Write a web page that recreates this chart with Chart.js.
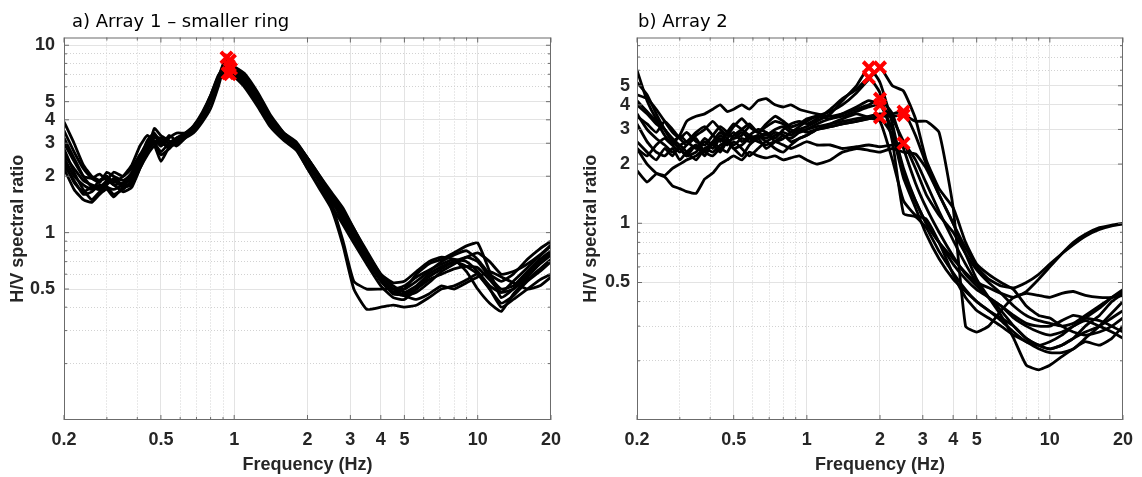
<!DOCTYPE html>
<html>
<head>
<meta charset="utf-8">
<script src="https://cdn.jsdelivr.net/npm/chart.js@4.4.0/dist/chart.umd.min.js"></script>
<style>
  html, body { margin: 0; padding: 0; background: #fff; }
  #wrap { position: relative; width: 1142px; height: 477px; }
  canvas { position: absolute; top: 0; }
  #chartA { left: 0; }
  #chartB { left: 570px; }
</style>
</head>
<body>
<div id="wrap">
  <canvas id="chartA" width="570" height="477"></canvas>
  <canvas id="chartB" width="572" height="477"></canvas>
</div>
<script>
// frequency samples shared by all curves (Hz)
const freq = [0.2, 0.22, 0.24, 0.26, 0.28, 0.3, 0.32, 0.35,
  0.38, 0.41, 0.44, 0.47, 0.5, 0.54, 0.58, 0.63,
  0.68, 0.74, 0.8, 0.86, 0.93, 1.0, 1.1, 1.25,
  1.4, 1.6, 1.8, 2.0, 2.25, 2.5, 2.8, 3.1,
  3.5, 4.0, 4.5, 5.0, 5.6, 6.3, 7.1, 8.0,
  9.0, 10, 11.2, 12.5, 14, 16, 18, 20];

// a) Array 1 - H/V curves
const hvA1 = [3.9, 3.0, 2.3, 2.0, 1.9, 1.95, 1.8, 1.85,
  2.1, 2.6, 3.0, 3.3, 3.1, 2.9, 3.0, 3.3,
  3.6, 4.2, 5.2, 6.6, 8.6, 7.6, 6.9, 5.4,
  4.1, 3.3, 2.95, 2.45, 1.95, 1.6, 1.3, 1.05,
  0.78, 0.58, 0.5, 0.52, 0.58, 0.63, 0.68, 0.72,
  0.7, 0.62, 0.52, 0.48, 0.55, 0.65, 0.75, 0.85];
const hvA2 = [3.2, 2.5, 2.0, 1.75, 1.7, 1.85, 1.9, 1.75,
  1.8, 2.2, 2.7, 3.6, 3.3, 3.1, 2.9, 3.2,
  3.5, 4.0, 5.0, 6.3, 8.3, 7.3, 6.6, 5.2,
  4.0, 3.2, 2.8, 2.3, 1.85, 1.5, 1.2, 0.95,
  0.72, 0.55, 0.48, 0.5, 0.6, 0.68, 0.72, 0.78,
  0.85, 0.88, 0.62, 0.45, 0.5, 0.6, 0.7, 0.78];
const hvA3 = [2.8, 2.1, 1.7, 1.5, 1.65, 1.75, 1.6, 1.7,
  1.9, 2.4, 2.9, 3.1, 2.9, 3.3, 3.1, 3.4,
  3.7, 4.3, 5.4, 6.8, 8.0, 7.2, 6.4, 5.0,
  3.9, 3.3, 3.0, 2.5, 2.0, 1.65, 1.35, 1.05,
  0.8, 0.6, 0.52, 0.48, 0.52, 0.6, 0.66, 0.7,
  0.74, 0.7, 0.58, 0.5, 0.52, 0.62, 0.72, 0.8];
const hvA4 = [2.5, 2.0, 1.8, 1.7, 1.9, 2.0, 1.85, 2.0,
  2.3, 2.9, 3.3, 3.0, 2.6, 2.8, 3.2, 3.3,
  3.5, 4.1, 5.1, 6.5, 7.5, 7.0, 6.2, 4.9,
  3.8, 3.15, 2.8, 2.2, 1.75, 1.4, 1.1, 0.88,
  0.68, 0.52, 0.45, 0.44, 0.5, 0.58, 0.64, 0.7,
  0.66, 0.6, 0.5, 0.42, 0.46, 0.55, 0.62, 0.7];
const hvA5 = [2.3, 1.9, 1.6, 1.65, 1.8, 1.75, 1.7, 1.8,
  2.0, 2.5, 3.1, 3.4, 3.0, 2.9, 3.0, 3.3,
  3.6, 4.2, 5.3, 6.6, 7.1, 6.8, 6.0, 4.7,
  3.7, 3.1, 2.75, 2.2, 1.7, 1.35, 0.85, 0.5,
  0.39, 0.4, 0.41, 0.4, 0.41, 0.45, 0.5, 0.52,
  0.56, 0.6, 0.5, 0.4, 0.44, 0.5, 0.56, 0.6];
const hvA6 = [2.6, 2.2, 1.9, 1.8, 1.75, 1.9, 2.1, 2.0,
  2.2, 2.6, 2.8, 3.0, 2.7, 3.0, 3.2, 3.4,
  3.6, 4.0, 5.0, 6.4, 7.8, 7.0, 6.3, 5.0,
  3.9, 3.2, 2.85, 2.4, 1.85, 1.45, 0.9, 0.55,
  0.5, 0.5, 0.5, 0.46, 0.44, 0.47, 0.52, 0.5,
  0.54, 0.58, 0.62, 0.58, 0.54, 0.5, 0.52, 0.58];
const hvA7 = [3.0, 2.4, 2.0, 1.95, 2.05, 1.9, 1.8, 1.65,
  1.75, 2.2, 2.6, 2.9, 2.4, 2.85, 3.0, 3.2,
  3.4, 3.9, 4.6, 6.0, 8.4, 7.4, 6.7, 5.3,
  4.2, 3.4, 3.05, 2.5, 1.95, 1.55, 1.25, 1.0,
  0.76, 0.58, 0.5, 0.5, 0.55, 0.62, 0.7, 0.76,
  0.8, 0.72, 0.6, 0.55, 0.6, 0.72, 0.82, 0.9];
const hvA8 = [2.2, 1.7, 1.5, 1.45, 1.6, 1.7, 1.55, 1.75,
  1.85, 2.3, 2.8, 3.2, 3.2, 3.0, 2.95, 3.3,
  3.7, 4.4, 5.4, 6.9, 7.9, 7.5, 6.8, 5.5,
  4.2, 3.3, 2.9, 2.35, 1.9, 1.55, 1.28, 1.02,
  0.78, 0.6, 0.54, 0.55, 0.62, 0.7, 0.74, 0.72,
  0.62, 0.5, 0.42, 0.38, 0.47, 0.56, 0.64, 0.72];
const hvA9 = [3.5, 2.7, 2.2, 1.95, 1.85, 2.1, 2.0, 1.9,
  2.05, 2.45, 2.75, 3.0, 3.1, 2.8, 3.1, 3.25,
  3.5, 4.1, 5.1, 6.5, 8.1, 7.7, 7.1, 5.6,
  4.3, 3.4, 3.0, 2.5, 2.0, 1.6, 1.3, 1.0,
  0.74, 0.56, 0.47, 0.47, 0.5, 0.56, 0.6, 0.64,
  0.66, 0.65, 0.56, 0.48, 0.5, 0.58, 0.68, 0.76];
const hvA10 = [2.4, 1.85, 1.65, 1.75, 1.7, 1.8, 1.95, 1.8,
  1.95, 2.35, 2.9, 3.3, 2.9, 3.2, 3.4, 3.4,
  3.6, 4.3, 5.3, 6.7, 8.7, 7.4, 6.5, 5.1,
  4.0, 3.25, 2.9, 2.35, 1.9, 1.5, 1.15, 0.9,
  0.7, 0.56, 0.48, 0.46, 0.48, 0.54, 0.62, 0.68,
  0.74, 0.78, 0.7, 0.6, 0.62, 0.68, 0.76, 0.86];
const peakFreqA = [0.93, 0.96, 0.95, 0.97, 0.94, 0.96];
const peakAmpA = [8.6, 8.3, 7.8, 7.5, 7.1, 7.0];

// b) Array 2 - H/V curves
const hvB1 = [6.0, 4.2, 3.4, 3.0, 2.7, 2.5, 2.6, 2.4,
  2.7, 2.5, 2.8, 2.6, 2.7, 2.9, 2.7, 2.8,
  2.6, 2.8, 2.9, 2.8, 3.0, 3.1, 3.3, 3.6,
  4.2, 5.0, 6.2, 5.2, 3.2, 1.8, 1.3, 1.0,
  0.8, 0.62, 0.52, 0.46, 0.42, 0.38, 0.33, 0.3,
  0.28, 0.27, 0.28, 0.3, 0.33, 0.37, 0.42, 0.46];
const hvB2 = [5.2, 4.5, 3.6, 3.0, 2.6, 2.4, 2.2, 2.5,
  2.3, 2.6, 2.4, 2.7, 2.9, 2.6, 2.8, 3.0,
  2.9, 2.7, 3.0, 3.2, 3.3, 3.2, 3.4, 3.8,
  4.3, 4.8, 5.5, 4.6, 2.6, 1.12, 1.08, 0.95,
  0.72, 0.56, 0.46, 0.4, 0.36, 0.33, 0.3, 0.26,
  0.24, 0.23, 0.24, 0.26, 0.3, 0.34, 0.4, 0.44];
const hvB3 = [4.5, 4.3, 3.8, 3.3, 2.9, 2.7, 2.9, 2.6,
  2.5, 2.8, 3.1, 2.9, 2.7, 2.8, 3.1, 2.9,
  2.8, 3.0, 3.1, 2.9, 3.1, 3.3, 3.5, 3.7,
  4.0, 4.6, 5.4, 6.2, 5.0, 4.7, 3.4, 2.1,
  1.5, 1.2, 0.8, 0.62, 0.55, 0.5, 0.46, 0.38,
  0.34, 0.33, 0.3, 0.28, 0.27, 0.28, 0.3, 0.33];
const hvB4 = [4.0, 3.6, 3.2, 3.0, 2.6, 2.8, 3.3, 3.5,
  3.6, 3.8, 4.0, 3.7, 3.8, 4.0, 3.8, 4.2,
  4.3, 4.0, 3.9, 4.0, 3.8, 3.7, 3.6, 3.5,
  3.6, 3.8, 4.0, 4.3, 3.6, 2.4, 1.6, 1.2,
  0.9, 0.68, 0.55, 0.48, 0.42, 0.38, 0.34, 0.31,
  0.3, 0.3, 0.32, 0.34, 0.33, 0.32, 0.3, 0.28];
const hvB5 = [3.6, 3.0, 2.7, 2.5, 2.3, 2.4, 2.2, 2.3,
  2.6, 2.4, 2.7, 2.5, 2.8, 3.0, 3.2, 2.9,
  3.1, 3.3, 3.2, 3.0, 2.9, 3.0, 3.2, 3.4,
  3.5, 3.7, 3.9, 4.0, 3.0, 1.9, 1.3, 1.0,
  0.8, 0.66, 0.56, 0.5, 0.47, 0.44, 0.42, 0.45,
  0.52, 0.6, 0.7, 0.8, 0.88, 0.95, 0.98, 1.0];
const hvB6 = [3.2, 2.6, 2.3, 2.2, 2.4, 2.1, 2.3, 2.5,
  2.2, 2.6, 2.9, 2.7, 2.5, 2.7, 2.6, 2.8,
  2.7, 2.9, 2.8, 2.7, 2.9, 3.0, 3.1, 3.2,
  3.3, 3.4, 3.5, 3.6, 3.6, 3.7, 2.8, 2.0,
  1.4, 1.0, 0.75, 0.6, 0.52, 0.48, 0.47, 0.5,
  0.55, 0.62, 0.7, 0.78, 0.86, 0.93, 0.97, 0.99];
const hvB7 = [2.4, 2.2, 2.5, 2.7, 2.5, 2.8, 2.6, 2.9,
  3.1, 2.8, 2.6, 2.9, 3.2, 3.0, 2.8, 2.7,
  2.9, 2.6, 2.7, 2.9, 3.0, 2.9, 3.0, 3.1,
  3.2, 3.3, 3.4, 3.5, 3.5, 3.55, 3.3, 3.3,
  2.9, 1.2, 0.3, 0.28, 0.3, 0.36, 0.42, 0.44,
  0.43, 0.42, 0.44, 0.45, 0.43, 0.42, 0.42, 0.43];
const hvB8 = [2.4, 2.0, 1.8, 1.75, 1.9, 2.0, 2.1, 2.2,
  2.4, 2.3, 2.5, 2.6, 2.4, 2.5, 2.7, 2.6,
  2.5, 2.6, 2.5, 2.4, 2.5, 2.6, 2.5, 2.5,
  2.4, 2.45, 2.5, 2.45, 2.5, 2.55, 2.1, 1.6,
  1.15, 0.82, 0.62, 0.5, 0.42, 0.36, 0.3, 0.26,
  0.24, 0.23, 0.24, 0.26, 0.28, 0.3, 0.33, 0.36];
const hvB9 = [1.85, 1.62, 1.78, 1.72, 1.55, 1.5, 1.45, 1.42,
  1.68, 1.8, 2.0, 2.1, 2.2, 2.1, 2.3, 2.2,
  2.15, 2.2, 2.1, 2.15, 2.2, 2.1, 2.0, 2.1,
  2.3, 2.4, 2.35, 2.3, 2.4, 2.3, 2.25, 1.9,
  1.4, 1.0, 0.7, 0.52, 0.42, 0.34, 0.26, 0.19,
  0.18, 0.19, 0.21, 0.23, 0.25, 0.24, 0.26, 0.3];
const hvB10 = [4.2, 3.7, 3.3, 2.8, 2.5, 2.3, 2.5, 2.7,
  2.3, 2.2, 2.4, 2.3, 2.6, 2.4, 2.2, 2.4,
  2.6, 2.4, 2.3, 2.5, 2.7, 2.8, 3.0, 3.2,
  3.4, 3.6, 3.45, 3.3, 2.1, 1.3, 1.1, 1.05,
  0.8, 0.55, 0.42, 0.36, 0.33, 0.3, 0.27, 0.25,
  0.23, 0.22, 0.22, 0.23, 0.26, 0.3, 0.35, 0.4];
const hvB11 = [3.5, 3.2, 2.9, 3.3, 3.0, 2.7, 2.5, 2.8,
  3.0, 3.3, 3.0, 2.8, 3.1, 3.4, 3.1, 2.9,
  3.2, 3.5, 3.3, 3.1, 3.2, 3.4, 3.5, 3.4,
  3.6, 3.9, 4.2, 4.0, 3.4, 2.6, 1.9, 1.4,
  1.1, 0.9, 0.7, 0.58, 0.5, 0.44, 0.38, 0.34,
  0.32, 0.31, 0.3, 0.31, 0.34, 0.38, 0.42, 0.45];
const hvB12 = [2.6, 2.3, 2.1, 2.4, 2.2, 2.5, 2.3, 2.1,
  2.4, 2.5, 2.3, 2.6, 2.4, 2.2, 2.5, 2.7,
  2.4, 2.6, 2.8, 2.6, 2.7, 2.8, 3.0, 3.1,
  3.2, 3.3, 3.4, 3.45, 2.8, 1.7, 1.2, 0.88,
  0.66, 0.52, 0.45, 0.4, 0.36, 0.32, 0.28, 0.25,
  0.24, 0.25, 0.27, 0.3, 0.32, 0.3, 0.28, 0.26];
const peakFreqB = [1.8, 1.8, 2.0, 2.0, 2.0, 2.0, 2.5, 2.5, 2.5];
const peakAmpB = [6.2, 5.5, 6.2, 4.3, 4.0, 3.45, 3.7, 3.55, 2.55];

// tick values
const xMajor = [0.2, 0.5, 1, 2, 3, 4, 5, 10, 20];
const xMinor = [0.3, 0.4, 0.6, 0.7, 0.8, 0.9, 6, 7, 8, 9];
const yMajorA = [0.5, 1, 2, 3, 4, 5, 10];
const yMajorB = [0.5, 1, 2, 3, 4, 5];
const yMinor = [0.2, 0.3, 0.4, 0.6, 0.7, 0.8, 0.9, 6, 7, 8, 9];

const tickFont = { family: "'Liberation Sans', Arial, sans-serif", size: 18, weight: "bold" };
const textColor = "#262626";

// box round the axes, inward tick marks and the panel title
const framePlugin = {
  id: "frame",
  afterDraw(chart, args, opts) {
    const { ctx, chartArea: a, scales } = chart;
    ctx.save();
    ctx.strokeStyle = "#6b6b6b";
    ctx.lineWidth = 1;
    const seg = (x1, y1, x2, y2) => {
      ctx.beginPath();
      ctx.moveTo(x1, y1);
      ctx.lineTo(x2, y2);
      ctx.stroke();
    };
    const marks = (scale, len) => {
      scale.ticks.forEach((t) => {
        const p = scale.getPixelForValue(t.value);
        if (scale.isHorizontal()) {
          seg(p, a.bottom, p, a.bottom - len);
          seg(p, a.top, p, a.top + len);
        } else {
          seg(a.left, p, a.left + len, p);
          seg(a.right, p, a.right - len, p);
        }
      });
    };
    marks(scales.x, 5);
    marks(scales.xMinor, 3);
    marks(scales.y, 5);
    marks(scales.yMinor, 3);
    ctx.strokeRect(a.left + 0.5, a.top + 0.5, a.width - 1, a.height - 1);
    ctx.fillStyle = "#000";
    ctx.font = "18px 'DejaVu Sans', Verdana, sans-serif";
    ctx.textBaseline = "middle";
    ctx.fillText(opts.text, a.left + opts.dx, 22);
    ctx.restore();
  },
};

function makeChart(id, p) {
  const lines = p.curves.map((c) => ({
    data: freq.map((f, i) => ({ x: f, y: c[i] })),
    borderColor: "#000",
    borderWidth: 2.8,
    pointRadius: 0,
    tension: 0.15,
    order: 1,
  }));
  const peaks = {
    data: p.peakF.map((f, i) => ({ x: f, y: p.peakV[i] })),
    showLine: false,
    pointStyle: "crossRot",
    pointRadius: 8,
    borderColor: "#ff0000",
    backgroundColor: "#ff0000",
    borderWidth: 4,
    order: 0,
  };

  new Chart(document.getElementById(id), {
    type: "line",
    data: { datasets: [peaks, ...lines] },
    plugins: [framePlugin],
    options: {
      responsive: false,
      animation: false,
      devicePixelRatio: 1,
      layout: { autoPadding: false, padding: { top: 37.5, right: p.padRight, left: 0, bottom: 0 } },
      plugins: {
        legend: { display: false },
        tooltip: { enabled: false },
        frame: { text: p.title, dx: p.titleDx },
      },
      scales: {
        x: {
          type: "logarithmic",
          min: 0.2,
          max: 20,
          afterBuildTicks: (s) => { s.ticks = xMajor.map((v) => ({ value: v })); },
          afterFit: (s) => { s.height = 57; },
          grid: { color: "#e3e3e3", lineWidth: 1, drawTicks: false },
          border: { display: false },
          ticks: {
            autoSkip: false, maxRotation: 0, padding: 9, color: textColor, font: tickFont,
            callback: (v) => String(v),
          },
          title: {
            display: true, text: "Frequency (Hz)", color: textColor, font: tickFont,
            padding: { top: 0, bottom: 1 },
          },
        },
        xMinor: {
          type: "logarithmic",
          position: "bottom",
          min: 0.2,
          max: 20,
          afterBuildTicks: (s) => { s.ticks = xMinor.map((v) => ({ value: v })); },
          afterFit: (s) => { s.height = 0; },
          grid: { color: "#d2d2d2", lineWidth: 1, drawTicks: false, borderDash: [1, 2] },
          border: { display: false, dash: [1, 2] },
          ticks: { display: false },
        },
        y: {
          type: "logarithmic",
          min: 0.1,
          max: p.yMax,
          afterBuildTicks: (s) => { s.ticks = p.yMajor.map((v) => ({ value: v })); },
          afterFit: (s) => { s.width = p.yWidth; },
          grid: { color: "#e3e3e3", lineWidth: 1, drawTicks: false },
          border: { display: false },
          ticks: {
            autoSkip: false, padding: p.yPad, color: textColor, font: tickFont,
            callback: (v) => String(v),
          },
          title: {
            display: true, text: "H/V spectral ratio", color: textColor, font: tickFont,
            padding: { top: p.yTitlePad, bottom: 0 },
          },
        },
        yMinor: {
          type: "logarithmic",
          position: "left",
          min: 0.1,
          max: p.yMax,
          afterBuildTicks: (s) => { s.ticks = yMinor.filter((v) => v < p.yMax).map((v) => ({ value: v })); },
          afterFit: (s) => { s.width = 0; },
          grid: { color: "#d2d2d2", lineWidth: 1, drawTicks: false, borderDash: [1, 2] },
          border: { display: false, dash: [1, 2] },
          ticks: { display: false },
        },
      },
    },
  });
}

makeChart("chartA", {
  title: "a) Array 1 \u2013 smaller ring",
  titleDx: 8,
  curves: [hvA1, hvA2, hvA3, hvA4, hvA5, hvA6, hvA7, hvA8, hvA9, hvA10],
  peakF: peakFreqA,
  peakV: peakAmpA,
  yMax: 11,
  yMajor: yMajorA,
  yWidth: 64,
  yPad: 9,
  yTitlePad: 7.5,
  padRight: 19,
});

makeChart("chartB", {
  title: "b) Array 2",
  titleDx: 1,
  curves: [hvB1, hvB2, hvB3, hvB4, hvB5, hvB6, hvB7, hvB8, hvB9, hvB10, hvB11, hvB12],
  peakF: peakFreqB,
  peakV: peakAmpB,
  yMax: 8.8,
  yMajor: yMajorB,
  yWidth: 67,
  yPad: 7,
  yTitlePad: 10,
  padRight: 16,
});
</script>
</body>
</html>
